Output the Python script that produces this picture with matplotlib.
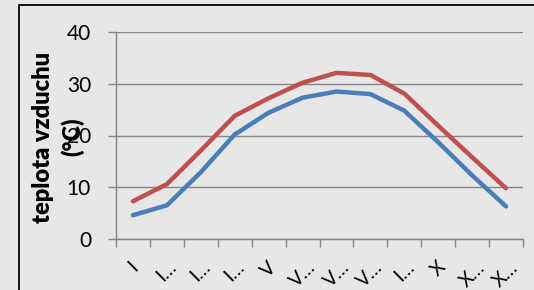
import matplotlib
matplotlib.use("Agg")
import matplotlib.pyplot as plt
from matplotlib.patches import Rectangle

plt.rcParams["font.family"] = ["Lato", "DejaVu Sans"]

months = ["I", "I\u2026", "I\u2026", "I\u2026", "V", "V\u2026", "V\u2026", "V\u2026",
          "I\u2026", "X", "X\u2026", "X\u2026"]
temp_blue = [4.6, 6.5, 12.9, 20.2, 24.4, 27.3, 28.5, 28.0, 24.8, 18.7, 12.3, 6.3]
temp_red = [7.3, 10.6, 17.1, 23.8, 27.2, 30.2, 32.1, 31.7, 28.1, 21.9, 15.8, 9.8]
y_ticks = [0, 10, 20, 30, 40]

bg = "#e7e7e7"
grid_c = "#868686"
c_blue = "#4a7ebb"
c_red = "#c0504d"

W, H = 534, 290
fig = plt.figure(figsize=(W / 100, H / 100), dpi=100, facecolor=bg)
ax = fig.add_axes([116 / W, 1 - 239 / H, (523 - 116) / W, (239 - 32) / H])
ax.set_facecolor("none")

# frame around chart area
fig.patches.append(Rectangle((19 / W, -0.2), 1.2, 1.2 - 5 / H, transform=fig.transFigure,
                             fill=False, edgecolor="black", linewidth=1.3))

x = list(range(len(months)))
ax.plot(x, temp_blue, color=c_blue, linewidth=3.2, solid_capstyle="round", zorder=3)
ax.plot(x, temp_red, color=c_red, linewidth=3.2, solid_capstyle="round", zorder=3)

ax.set_xlim(-0.5, len(months) - 0.5)
ax.set_ylim(0, 40)
ax.set_yticks(y_ticks)
ax.set_yticklabels([str(v) for v in y_ticks], fontsize=15)
ax.yaxis.grid(True, color=grid_c, linewidth=1)
ax.set_axisbelow(True)

ax.set_xticks([i - 0.5 for i in range(len(months) + 1)])
ax.set_xticklabels([])
ax.set_xticks(x, minor=True)
ax.set_xticklabels(months, minor=True, rotation=45, ha="center", fontsize=14)
ax.tick_params(axis="x", which="minor", length=0, pad=14)
ax.tick_params(axis="x", which="major", length=6, width=1, color=grid_c)
ax.tick_params(axis="y", length=6, width=1, color=grid_c, pad=12)

for s in ["top", "right"]:
    ax.spines[s].set_visible(False)
for s in ["left", "bottom"]:
    ax.spines[s].set_color(grid_c)
    ax.spines[s].set_linewidth(1)

fig.text(58 / W, 1 - 137 / H, "teplota vzduchu\n(\u00b0C)", rotation=90, ha="center",
         va="center", multialignment="center", fontsize=17, fontweight="heavy",
         linespacing=1.35)

fig.savefig("out.png", dpi=100, facecolor=bg)
